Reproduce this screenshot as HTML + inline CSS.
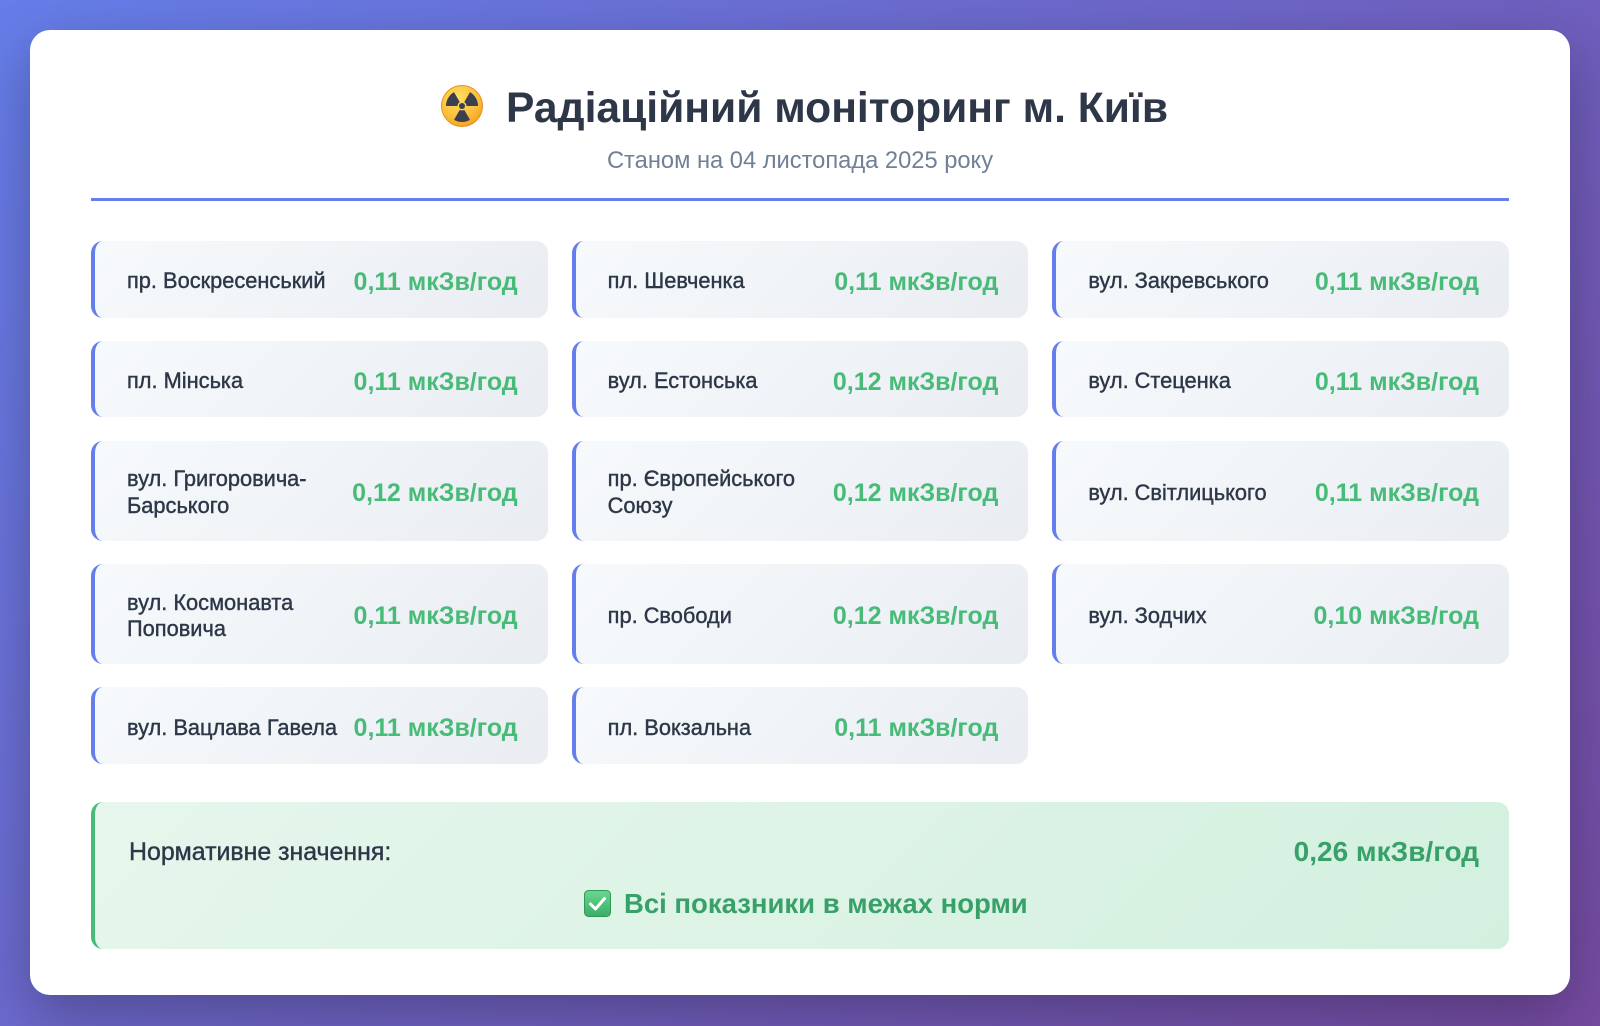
<!DOCTYPE html>
<html><head><meta charset="utf-8">
<style>
*{margin:0;padding:0;box-sizing:border-box}
html,body{width:1600px;height:1026px;overflow:hidden}
body{background:linear-gradient(135deg,#667eea 0%,#764ba2 100%);font-family:"Liberation Sans","DejaVu Sans",sans-serif;position:relative}
.card{position:absolute;left:30px;top:30px;width:1540px;height:965px;background:#fff;border-radius:20px;box-shadow:0 20px 60px rgba(0,0,0,.28)}
.emo{position:absolute;left:411px;top:55px;width:42px;height:42px}
.title{position:absolute;left:476px;top:53px;height:50px;line-height:50px;font-size:42.6px;font-weight:bold;color:#2d3748;white-space:nowrap}
.sub{position:absolute;left:0;width:1540px;top:116px;line-height:30px;font-size:23.7px;color:#718096;text-align:center;white-space:nowrap}
.line{position:absolute;left:61px;top:168px;width:1418px;height:3px;background:#667eea}
.grid{position:absolute;left:61px;top:211px;width:1418px;display:grid;grid-template-columns:repeat(3,1fr);column-gap:24px;row-gap:23.3px;grid-template-rows:76.5px 76.5px 100px 100px 76.5px}
.it{display:flex;align-items:center;justify-content:space-between;padding:5px 30px 0 32px;border-left:4px solid #667eea;border-radius:12px;background:linear-gradient(135deg,#f7fafc 0%,#e9edf2 100%)}
.n{font-size:21.8px;line-height:26.7px;color:#2d3748;-webkit-text-stroke:.4px #2d3748;white-space:nowrap}
.v{font-size:25px;line-height:30px;font-weight:bold;color:#48bb78;white-space:nowrap}
.norm{position:absolute;left:61px;top:772px;width:1418px;height:147px;border-left:4px solid #48bb78;border-radius:12px;background:linear-gradient(135deg,#e6f6ec 0%,#d3f0df 100%)}
.nl{position:absolute;left:34px;top:35px;line-height:30px;font-size:24.9px;color:#2d3748;-webkit-text-stroke:.4px #2d3748;white-space:nowrap}
.nv{position:absolute;right:30px;top:34px;line-height:32px;font-size:28px;font-weight:bold;color:#38a169;white-space:nowrap}
.ok{position:absolute;left:489px;top:88px;width:27px;height:27px}
.okt{position:absolute;left:529px;top:86px;line-height:32px;font-size:27.5px;font-weight:bold;color:#38a169;white-space:nowrap}
</style></head><body>
<div class="card">
  <svg class="emo" viewBox="0 0 42 42">
    <defs><radialGradient id="rg" cx="0.4" cy="0.3" r="0.8"><stop offset="0" stop-color="#ffe066"/><stop offset="0.6" stop-color="#fbbf3a"/><stop offset="1" stop-color="#f29a1f"/></radialGradient></defs>
    <circle cx="21" cy="21" r="20.5" fill="url(#rg)" stroke="#e8911c" stroke-width="1"/>
    <g fill="#3b3f4e">
      <path d="M23.25,24.9 L29,34.86 A16,16 0 0 1 13,34.86 L18.75,24.9 A4.5,4.5 0 0 0 23.25,24.9 Z"/>
      <path d="M23.25,17.1 L29,7.14 A16,16 0 0 1 37,21 L25.5,21 A4.5,4.5 0 0 0 23.25,17.1 Z"/>
      <path d="M16.5,21 L5,21 A16,16 0 0 1 13,7.14 L18.75,17.1 A4.5,4.5 0 0 0 16.5,21 Z"/>
      <circle cx="21" cy="21" r="3"/>
    </g>
  </svg>
  <div class="title">Радіаційний моніторинг м. Київ</div>
  <div class="sub">Станом на 04 листопада 2025 року</div>
  <div class="line"></div>
  <div class="grid">
    <div class="it"><div class="n">пр. Воскресенський</div><div class="v">0,11 мкЗв/год</div></div>
    <div class="it"><div class="n">пл. Шевченка</div><div class="v">0,11 мкЗв/год</div></div>
    <div class="it"><div class="n">вул. Закревського</div><div class="v">0,11 мкЗв/год</div></div>
    <div class="it"><div class="n">пл. Мінська</div><div class="v">0,11 мкЗв/год</div></div>
    <div class="it"><div class="n">вул. Естонська</div><div class="v">0,12 мкЗв/год</div></div>
    <div class="it"><div class="n">вул. Стеценка</div><div class="v">0,11 мкЗв/год</div></div>
    <div class="it"><div class="n">вул. Григоровича-<br>Барського</div><div class="v">0,12 мкЗв/год</div></div>
    <div class="it"><div class="n">пр. Європейського<br>Союзу</div><div class="v">0,12 мкЗв/год</div></div>
    <div class="it"><div class="n">вул. Світлицького</div><div class="v">0,11 мкЗв/год</div></div>
    <div class="it"><div class="n">вул. Космонавта<br>Поповича</div><div class="v">0,11 мкЗв/год</div></div>
    <div class="it"><div class="n">пр. Свободи</div><div class="v">0,12 мкЗв/год</div></div>
    <div class="it"><div class="n">вул. Зодчих</div><div class="v">0,10 мкЗв/год</div></div>
    <div class="it"><div class="n">вул. Вацлава Гавела</div><div class="v">0,11 мкЗв/год</div></div>
    <div class="it"><div class="n">пл. Вокзальна</div><div class="v">0,11 мкЗв/год</div></div>
  </div>
  <div class="norm">
    <div class="nl">Нормативне значення:</div>
    <div class="nv">0,26 мкЗв/год</div>
    <svg class="ok" viewBox="0 0 27 27">
      <defs><linearGradient id="gg" x1="0" y1="0" x2="0" y2="1"><stop offset="0" stop-color="#6ad891"/><stop offset="1" stop-color="#3aad66"/></linearGradient></defs>
      <rect x="0.5" y="0.5" width="26" height="26" rx="4" fill="url(#gg)" stroke="#2f9a58" stroke-width="1"/>
      <path d="M6.5,14 L11.5,19 L20.5,8.5" fill="none" stroke="#fff" stroke-width="3" stroke-linecap="round" stroke-linejoin="round"/>
    </svg>
    <div class="okt">Всі показники в межах норми</div>
  </div>
</div>
</body></html>
